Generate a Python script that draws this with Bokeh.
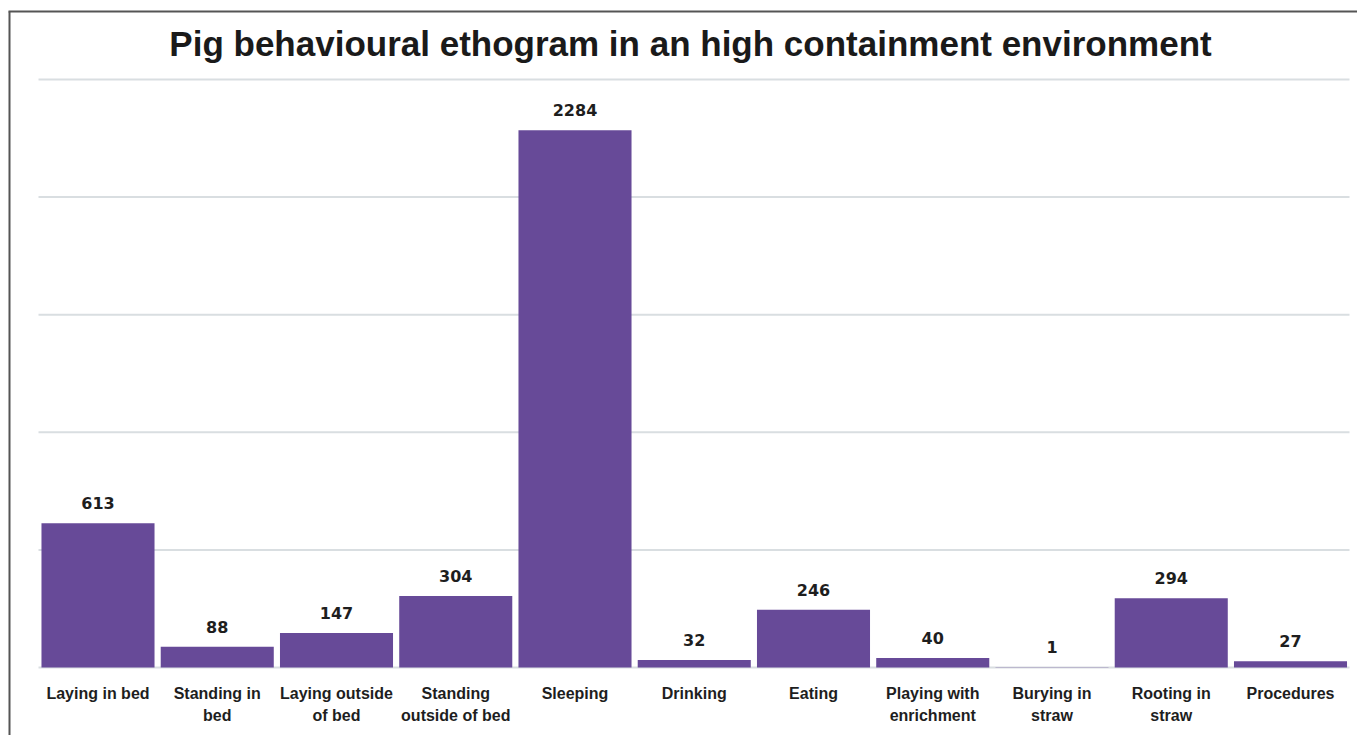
from bokeh.plotting import figure
from bokeh.models import ColumnDataSource, Label, Range1d
from bokeh.core.properties import value
from bokeh.embed import file_html
from bokeh.resources import INLINE

# ---- data ----
categories = ["Laying in bed", "Standing in\nbed", "Laying outside\nof bed",
              "Standing\noutside of bed", "Sleeping", "Drinking", "Eating",
              "Playing with\nenrichment", "Burying in\nstraw", "Rooting in\nstraw",
              "Procedures"]
counts = [613, 88, 147, 304, 2284, 32, 246, 40, 1, 294, 27]
grid_values = [0, 500, 1000, 1500, 2000, 2500]
title_text = "Pig behavioural ethogram in an high containment environment"

# ---- layout (pixel geometry of the canvas) ----
W, H = 1357, 735
cw = 119.25            # px per category
first_center = 97.5    # px of first category centre
base_px = 667          # px (from top) of value 0
top_px = 79            # px of value 2500
sy = (base_px - top_px) / 2500.0

x0 = -first_center / cw
x1 = x0 + W / cw
y0 = -(H - base_px) / sy
y1 = y0 + H / sy

def px_x(px):
    return x0 + px / cw

def px_y(py):
    return y1 - py / sy

p = figure(width=W, height=H, output_backend="svg", toolbar_location=None,
           x_range=Range1d(x0, x1), y_range=Range1d(y0, y1),
           min_border=0, min_border_left=0, min_border_right=0,
           min_border_top=0, min_border_bottom=0)
p.axis.visible = False
p.grid.visible = False
p.outline_line_color = None
p.background_fill_color = "white"
p.border_fill_color = "white"

idx = list(range(len(categories)))
src = ColumnDataSource(dict(x=idx, top=counts, cat=categories,
                            lab=[str(c) for c in counts]))

# gridlines
p.segment(x0=[px_x(38)] * len(grid_values), x1=[px_x(1349)] * len(grid_values),
          y0=grid_values, y1=grid_values, line_color="#d9dee1", line_width=2)

# bars
p.vbar(x="x", top="top", bottom=0, width=0.948, source=src,
       fill_color="#674a98", line_color=None)

# value labels
p.text(x="x", y="top", text="lab", source=src, text_align="center",
       text_baseline="bottom", y_offset=-14, text_font=value("DejaVu Sans"),
       text_font_style="bold", text_font_size="16px", text_color="#1e1e1e")

# category labels
p.text(x="x", y=0, text="cat", source=src, text_align="center",
       text_baseline="top", y_offset=17, text_font=value("Liberation Sans"),
       text_font_style="bold", text_font_size="16px", text_color="#1e1e1e",
       text_line_height=1.3)

# frame border (top and left only visible)
p.segment(x0=[px_x(8), px_x(9)], x1=[px_x(1357), px_x(9)],
          y0=[px_y(11), px_y(11)], y1=[px_y(11), px_y(735)],
          line_color="#555555", line_width=2)

# title
p.add_layout(Label(x=px_x(690), y=px_y(43), text=title_text, text_align="center",
                   text_baseline="middle", text_font="Liberation Sans",
                   text_font_style="bold", text_font_size="35px",
                   text_color="#1a1a1a"))

open("out.html", "w").write(file_html(p, INLINE))
